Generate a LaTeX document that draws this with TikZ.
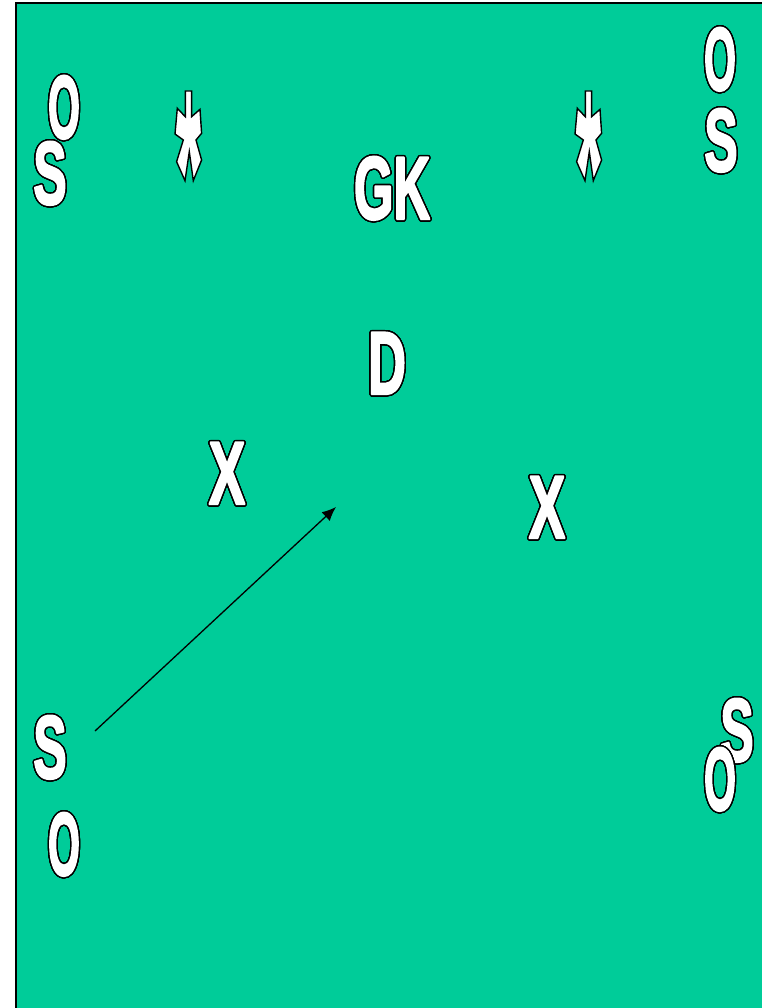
\documentclass[tikz,border=0pt]{standalone}
\usepackage{fontspec}
\setmainfont{Liberation Sans}
\usepackage[copies]{contour}
\contourlength{1.4pt}
\contournumber{32}
\usetikzlibrary{arrows.meta}
\definecolor{field}{RGB}{0,204,153}
\newcommand{\outl}[2]{\contour{black}{\scalebox{#1}[1]{\special{pdf:literal direct 2.6 w 1 j 2 Tr}#2\special{pdf:literal direct 0 Tr}}}}
\tikzset{
  lbl/.style={text=white, inner sep=0pt, font=\fontsize{89}{89}\selectfont\bfseries},
  feather/.style={fill=white, draw=black, line width=1.4pt, line join=miter},
  arrowline/.style={draw=black, line width=1.3pt, -{Latex[length=14pt,width=12pt]}},
}
\begin{document}
\begin{tikzpicture}[x=1pt,y=-1pt]
\useasboundingbox (0,0) rectangle (761,1008);
% field
\fill[field] (16,3) rectangle (800,1040);
\draw[black, line width=2pt] (16,1040) -- (16,3) -- (800,3);
% labels
\node[lbl] (oTL) at (64,108) {\outl{0.46}{O}};
\node[lbl] (sTL) at (50,174) {\outl{0.56}{S}};
\node[lbl] (oTR) at (720,60) {\outl{0.46}{O}};
\node[lbl] (sTR) at (721,141) {\outl{0.56}{S}};
\node[lbl] (gk) at (392,189) {\outl{0.57}{GK}};
\node[lbl] (d) at (387,364) {\outl{0.59}{D}};
\node[lbl] (xL) at (227,474) {\outl{0.61}{X}};
\node[lbl] (xR) at (547,508) {\outl{0.61}{X}};
\node[lbl] (sBL) at (50,748) {\outl{0.56}{S}};
\node[lbl] (oBL) at (64,845) {\outl{0.46}{O}};
\node[lbl] (sBR) at (737,731) {\outl{0.56}{S}};
\node[lbl] (oBR) at (720,780) {\outl{0.46}{O}};
% feather symbols
\foreach \px/\nm in {188.3/fL, 588.3/fR}{
  \draw[feather, shift={(\px,91)}]
    (-3,0) -- (3.3,0) -- (3.3,25.7) -- (11.7,18.3) -- (13.3,42.3) -- (7.7,49)
    -- (13.3,69) -- (5,89.7) -- (1,60.7) -- (-3.3,89.7) -- (-11.7,70.7)
    -- (-5,49) -- (-13.3,43) -- (-11,17.3) -- (-3,25.7) -- cycle;
}
% arrow
\coordinate (aS) at (95,731);
\coordinate (aE) at (336,507);
\draw[arrowline] (aS) -- (aE);
\end{tikzpicture}
\end{document}
